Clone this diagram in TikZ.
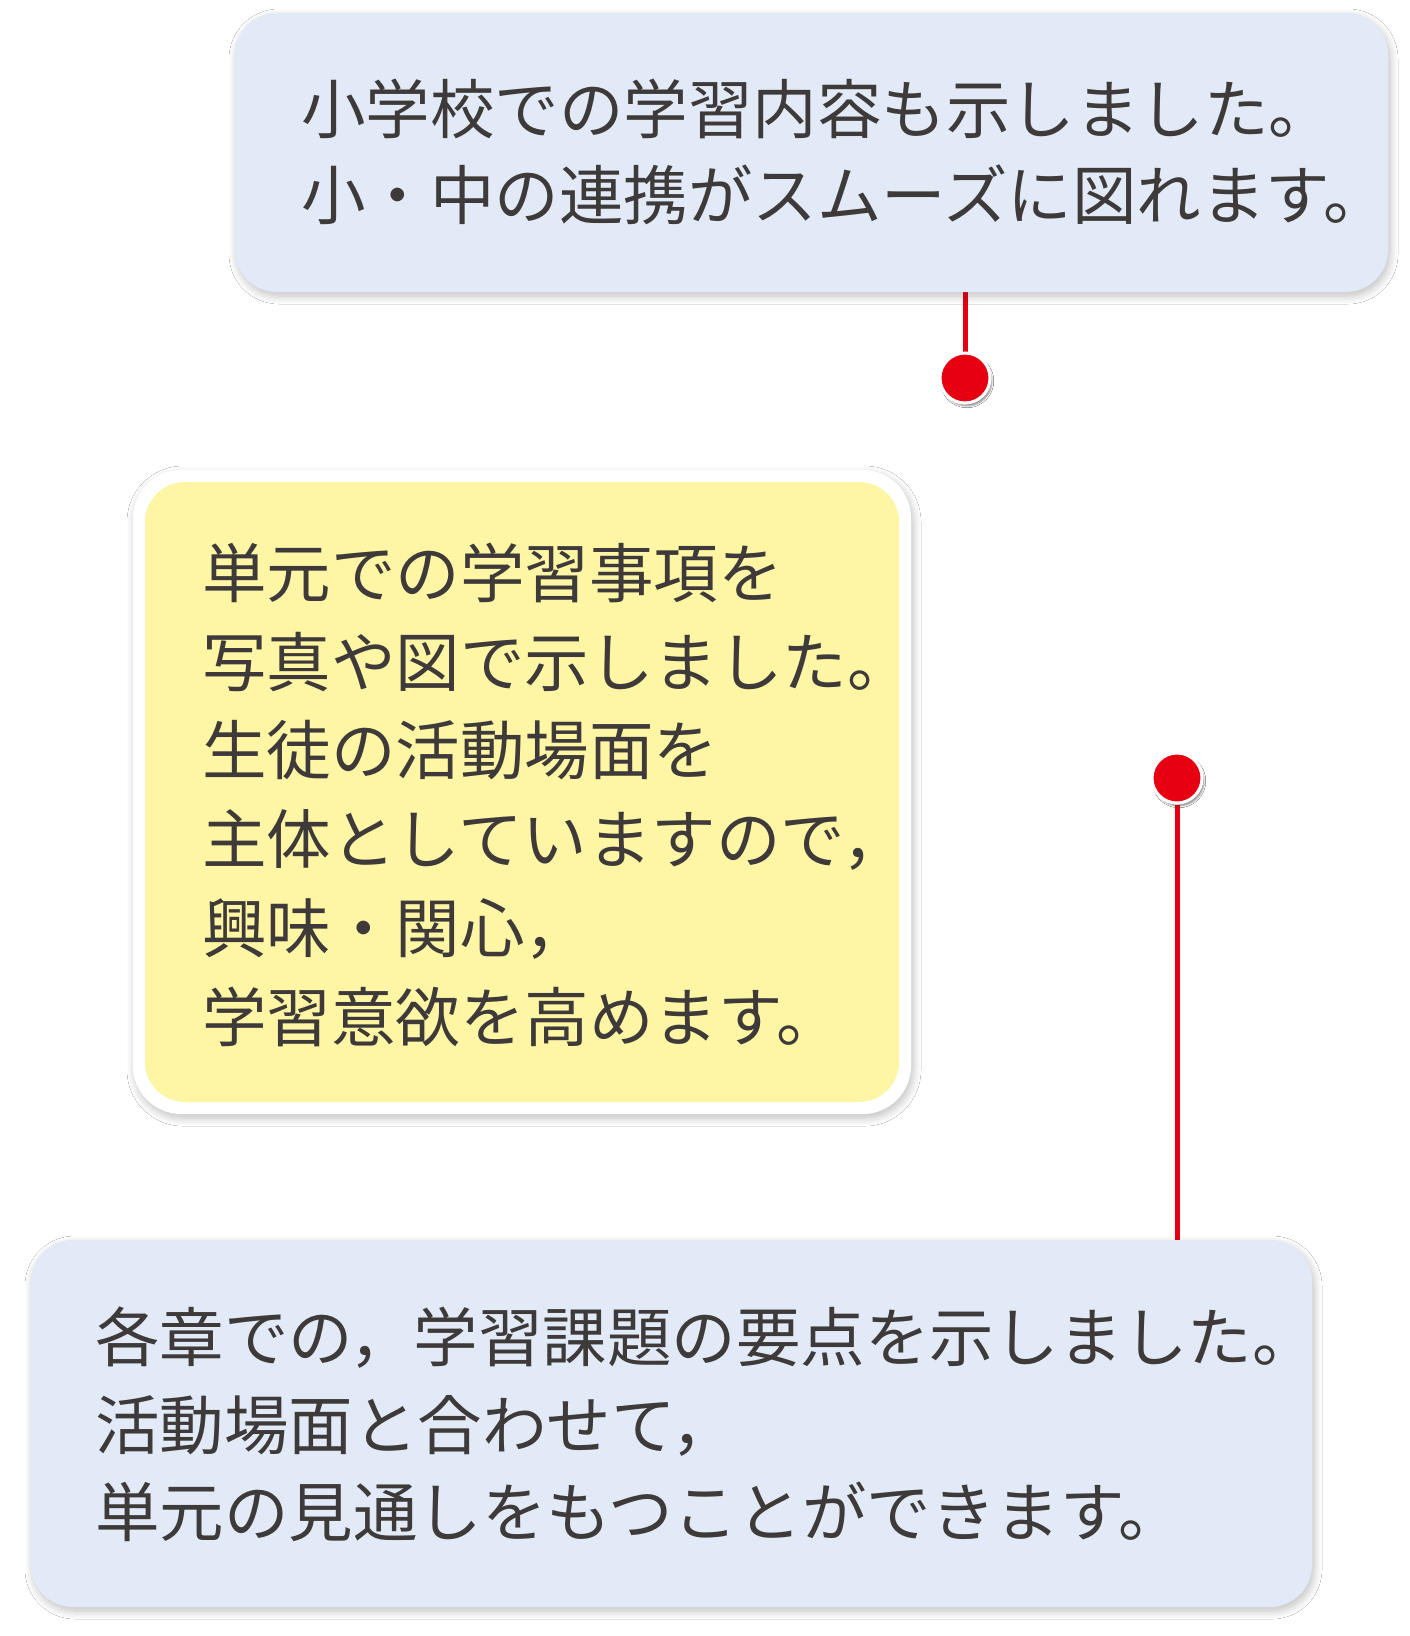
\documentclass[tikz,border=0pt]{standalone}
\usepackage{fontspec}
\newfontfamily\jp{Noto Sans CJK JP}
\usetikzlibrary{shadows.blur}
\definecolor{bluebox}{HTML}{E1EAF6}
\definecolor{yelbox}{HTML}{FFF6A5}
\definecolor{redc}{HTML}{E60012}
\definecolor{txt}{HTML}{3E3A39}
\tikzset{
 box/.style={rounded corners=42pt, draw=none, inner sep=0pt, blur shadow={shadow xshift=2pt,shadow yshift=-4pt,shadow blur radius=8pt,shadow blur steps=10,shadow opacity=25}},
 ln/.style={anchor=base west, inner sep=0pt, text=txt, font=\jp\fontsize{64.5}{70}\selectfont},
 dot/.style={circle, fill=redc, draw=white, line width=3pt, minimum size=50pt, inner sep=0pt, blur shadow={shadow xshift=2pt,shadow yshift=-3pt,shadow opacity=25}},
 conn/.style={draw=redc, line width=5pt}
}
\begin{document}
\begin{tikzpicture}[x=1pt,y=1pt]
\useasboundingbox[fill=white] (0,0) rectangle (1410,-1636);
\coordinate (c1) at (965,-292);
\node[dot] (d1) at (965,-378) {};
\node[dot] (d2) at (1177,-778) {};
\coordinate (c2) at (1177,-1240);
\draw[conn] (c1) -- (d1.north);
\draw[conn] (d2.south) -- (c2);
\node[dot] at (d1) {};
\node[dot] at (d2) {};
% top box
\path[box, fill=bluebox] (235,-13) rectangle (1388,-292);
\node[ln] (t1) at (301,-133) {小学校での学習内容も示しました。};
\node[ln] (t2) at (301,-219) {小・中の連携がスムーズに図れます。};
% yellow box
\path[box, fill=white, rounded corners=48pt] (133,-470) rectangle (911,-1114);
\path[fill=yelbox, rounded corners=40pt] (145,-482) rectangle (899,-1102);
\node[ln] (y1) at (202,-597) {単元での学習事項を};
\node[ln] (y2) at (202,-686) {写真や図で示しました。};
\node[ln] (y3) at (202,-774) {生徒の活動場面を};
\node[ln] (y4) at (202,-863) {主体としていますので，};
\node[ln] (y5) at (202,-952) {興味・関心，};
\node[ln] (y6) at (202,-1041) {学習意欲を高めます。};
% bottom box
\path[box, fill=bluebox] (31,-1240) rectangle (1312,-1607);
\node[ln] (b1) at (95,-1361) {各章での，学習課題の要点を示しました。};
\node[ln] (b2) at (95,-1449) {活動場面と合わせて，};
\node[ln] (b3) at (95,-1536) {単元の見通しをもつことができます。};
\end{tikzpicture}
\end{document}
